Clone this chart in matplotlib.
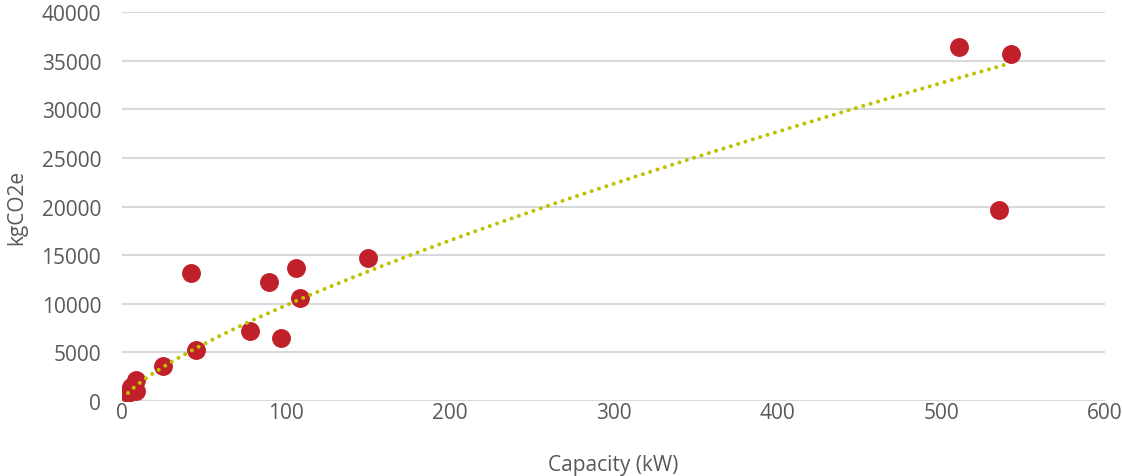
import numpy as np
import matplotlib
matplotlib.use("Agg")
import matplotlib.pyplot as plt

plt.rcParams['font.family'] = ['Open Sans', 'DejaVu Sans']

capacity_kw = [3.7, 5.5, 8.5, 8.5, 25.2, 45.2, 42.1, 78.1, 89.9, 97.1, 106.2, 108.9, 150.2, 511.2, 542.5, 535.6]
kgco2e = [800, 1400, 2200, 1000, 3630, 5240, 13190, 7230, 12200, 6450, 13640, 10560, 14740, 36430, 35710, 19670]
x_ticks = [0, 100, 200, 300, 400, 500, 600]
y_ticks = [0, 5000, 10000, 15000, 20000, 25000, 30000, 35000, 40000]
# power trendline y = coef * x ** exp
trend_coef = 317
trend_exp = 0.746

fig = plt.figure(figsize=(11.22, 4.77), dpi=100)
ax = fig.add_axes([0.1087, 0.157, 0.876, 0.8157])

x = np.array(capacity_kw)
y = np.array(kgco2e)
xt = np.linspace(x.min(), x.max(), 400)
ax.plot(xt, trend_coef * xt ** trend_exp, color='#bfc200', lw=2.9, linestyle=(0, (0.01, 1.9)),
        dash_capstyle='round', zorder=3)
ax.scatter(x, y, s=185, color='#c0202a', zorder=2, linewidths=0)

ax.set_xlim(0, 600)
ax.set_ylim(0, 40000)
ax.set_xticks(x_ticks)
ax.set_yticks(y_ticks)
ax.grid(axis='y', color='#d9d9d9', lw=1.5)
ax.set_axisbelow(True)
for s in ax.spines.values():
    s.set_visible(False)
ax.tick_params(length=0, labelsize=15, labelcolor='#595959')
ax.tick_params(axis='y', pad=15)
ax.tick_params(axis='x', pad=1)
ax.set_xlabel('Capacity (kW)', fontsize=15, color='#595959', labelpad=22)
ax.set_ylabel('kgCO2e', fontsize=15, color='#595959', labelpad=10)

fig.savefig('out.png', dpi=100)
